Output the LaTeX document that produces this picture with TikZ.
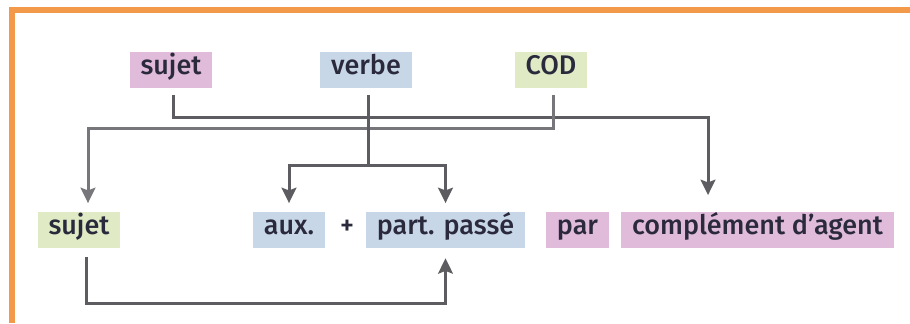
\documentclass[tikz,border=0pt]{standalone}
\usepackage{fontspec}
\setmainfont{Fira Sans Medium}
\usetikzlibrary{arrows.meta}
\definecolor{frameorange}{HTML}{F39A4A}
\definecolor{pinkbox}{HTML}{E1BCDA}
\definecolor{bluebox}{HTML}{C8D7E8}
\definecolor{greenbox}{HTML}{E0EBC5}
\definecolor{darkline}{HTML}{5C5C61}
\definecolor{lightline}{HTML}{77777B}
\definecolor{inktext}{HTML}{2A2A3C}

\tikzstyle{box} = [inner xsep=3.2mm, inner ysep=0pt, minimum height=10.8mm, text height=4.1mm, text depth=1.2mm, text=inktext, font=\fontsize{23}{26}\selectfont]
\tikzstyle{line} = [draw,darkline,line width=0.9mm,-{Stealth[length=4.6mm,width=4.4mm,inset=0.8mm]}]

\begin{document}
\begin{tikzpicture}[x=0.3mm,y=-0.3mm]
\useasboundingbox (0,0) rectangle (910,323);
\draw[frameorange, line width=1.6mm] (12,323) -- (12,10) -- (910,10);
\node[box, fill=pinkbox] (sujetH) at (171,70) {sujet};
\node[box, fill=bluebox] (verbe) at (366,70) {verbe};
\node[box, fill=greenbox] (cod) at (551,70) {COD};
\node[box, fill=greenbox] (sujetB) at (79,230) {sujet};
\node[box, fill=bluebox] (aux) at (289,230) {aux.};
\node[box] (plus) at (347,230) {+};
\node[box, fill=bluebox] (part) at (445.5,230) {part. passé};
\node[box, fill=pinkbox] (par) at (577.5,230) {par};
\node[box, fill=pinkbox] (agent) at (757.5,230) {complément d'agent};
\coordinate (aj) at (708,117);
\coordinate (cj) at (88,128);
\coordinate (vj) at (368,165);
\coordinate (bj) at (86,303);
\draw[line, shorten <=2mm, shorten >=5mm] (sujetH.south -| 173,0) |- (aj) -- (aj |- agent.north);
\draw[line, draw=lightline, line width=0.9mm, shorten <=2mm, shorten >=2.6mm] (cod.south -| 553,0) |- (cj) -- (cj |- sujetB.north);
\draw[darkline, line width=0.9mm, shorten <=2mm] (verbe.south -| vj) -- (vj);
\draw[line, shorten >=2.6mm] (vj) -| (aux.north);
\draw[line, shorten >=2.6mm] (vj) -| (part.north);
\draw[line, shorten <=2.7mm, shorten >=3mm] (sujetB.south -| bj) -- (bj) -| (part.south);
\end{tikzpicture}
\end{document}
